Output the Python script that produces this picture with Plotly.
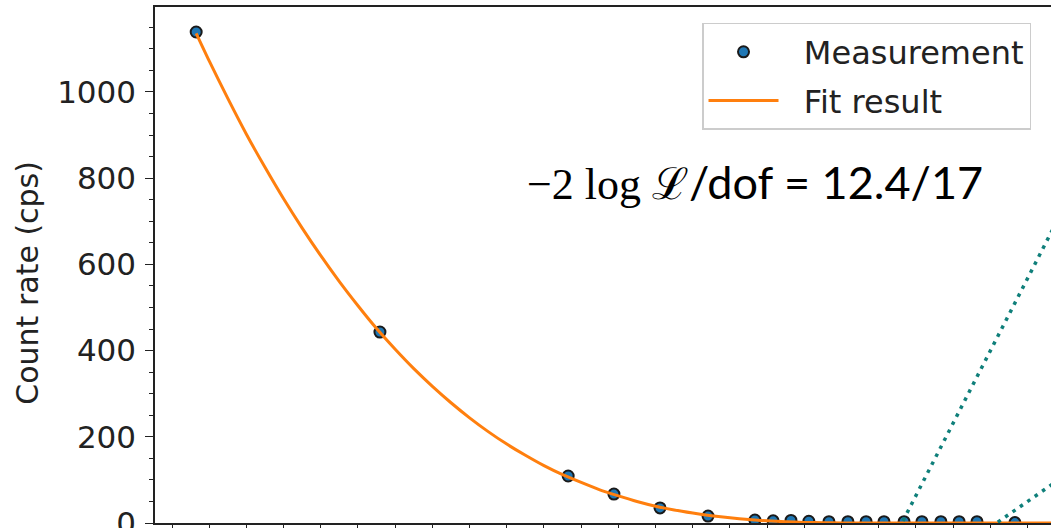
import plotly.graph_objects as go

# Measurement data (x in axis-tick units, y in cps)
meas_x = [0.65, 5.59, 10.65, 11.88, 13.12, 14.41, 15.67, 16.16, 16.64, 17.12,
          17.66, 18.17, 18.66, 19.14, 19.68, 20.16, 20.67, 21.16, 21.64, 22.66]
meas_y = [1139, 443, 109, 67, 35, 16, 7, 5, 6, 4,
          3, 3, 3, 3, 3, 3, 3, 3, 3, 1]

# Fit curve
fit_x = [0.65, 1.0, 1.5, 2.0, 2.5, 3.0, 3.5, 4.0, 4.5, 5.0, 5.5, 6.0, 6.5, 7.0,
         7.5, 8.0, 8.5, 9.0, 9.5, 10.0, 10.5, 11.0, 11.5, 12.0, 12.5, 13.0,
         13.5, 14.0, 14.5, 15.0, 15.5, 16.0, 16.5, 17.0, 17.5, 18.0, 18.5,
         19.0, 20.0, 21.0, 22.0, 23.0, 23.7]
fit_y = [1136, 1072, 985, 902, 825, 752, 684, 620, 560, 504, 451, 403, 358, 317,
         279, 244, 212, 183, 157, 133, 112, 94, 77, 63, 50, 39,
         30, 23, 17, 12, 8, 5, 3, 1.4, 0.6, 0.2, 0,
         0, 0, 0, 0, 0, 0]

# Dotted teal guide lines
guide1_x = [19.65, 23.7]
guide1_y = [5, 685]
guide2_x = [22.2, 23.7]
guide2_y = [2, 92]

fig = go.Figure()

fig.add_trace(go.Scatter(
    x=meas_x, y=meas_y, mode="markers", name="\u00a0\u00a0Measurement",
    legendgroup="a",
    marker=dict(size=11, color="#1f77b4", line=dict(color="#1a1a1a", width=2)),
))
fig.add_trace(go.Scatter(
    x=fit_x, y=fit_y, mode="lines", name="\u00a0\u00a0Fit result", legendgroup="b",
    line=dict(color="#ff7f0e", width=3, shape="spline", smoothing=0.6),
))
for gx, gy in [(guide1_x, guide1_y), (guide2_x, guide2_y)]:
    fig.add_trace(go.Scatter(
        x=gx, y=gy, mode="lines", showlegend=False,
        line=dict(color="#0f7f7a", width=3.5, dash="3.5px,5.5px"),
    ))

fig.update_layout(
    width=1051, height=528,
    margin=dict(l=155, r=0, t=7, b=5, autoexpand=False),
    plot_bgcolor="white", paper_bgcolor="white",
    font=dict(family="DejaVu Sans", size=30, color="#222222"),
    showlegend=True,
    legend=dict(
        x=0.6105, y=0.969, xanchor="left", yanchor="top",
        bgcolor="white", bordercolor="#cccccc", borderwidth=1.5,
        font=dict(family="DejaVu Sans", size=32, color="#222222"),
        tracegroupgap=4, itemwidth=70,
    ),
    xaxis=dict(
        range=[-0.457, 23.63], showgrid=False, zeroline=False, automargin=False,
        showline=True, linecolor="#222222", linewidth=1.5, mirror=True,
        ticks="outside", ticklen=6, tickwidth=1.3, tickcolor="#222222",
        tick0=0, dtick=1, showticklabels=False,
    ),
    yaxis=dict(
        range=[0, 1197], showgrid=False, zeroline=False, automargin=False,
        showline=True, linecolor="#222222", linewidth=1.5,
        ticks="outside", ticklen=8, tickwidth=1.3, tickcolor="#222222",
        tick0=0, dtick=200, ticklabelstandoff=3, ticklabeloverflow="allow",
        tickfont=dict(family="DejaVu Sans", size=31, color="#222222"),
        minor=dict(ticks="outside", ticklen=4.5, dtick=50, tickcolor="#222222", tickwidth=1.1),
    ),
    annotations=[
        dict(text="Count rate (cps)", textangle=-90, xref="paper", yref="paper",
             x=-0.165, y=0.465, showarrow=False,
             font=dict(family="DejaVu Sans", size=30, color="#222222")),
        dict(text='<span style="font-family:\'Liberation Serif\'; font-size:44px">\u22122 log \u2112</span>/dof = 12.4/17',
             xref="paper", yref="paper", x=0.413, y=0.66, xanchor="left", yanchor="middle",
             showarrow=False, font=dict(family="Lato", size=45, color="black")),
    ],
)

fig.write_html("out.html", config={"displayModeBar": False},
               post_script="document.body.style.margin='0';document.body.style.overflow='hidden';")
